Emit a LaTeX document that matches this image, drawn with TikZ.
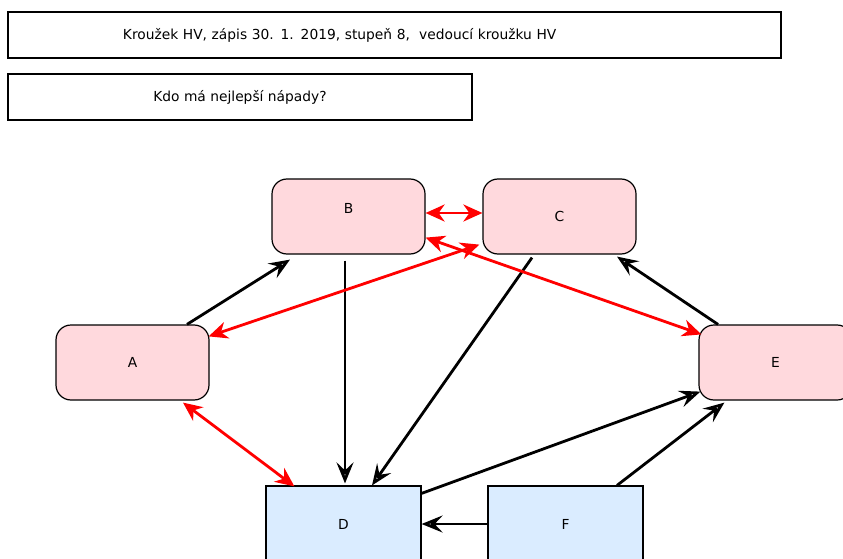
\documentclass[tikz,border=0pt]{standalone}
\usepackage{fontspec}
\setmainfont{DejaVu Sans}
\usetikzlibrary{arrows.meta,calc}
\definecolor{pinkfill}{RGB}{255,217,221}
\definecolor{bluefill}{RGB}{218,236,255}

\begin{document}
\begin{tikzpicture}[x=1pt,y=-1pt,
  every node/.style={font=\fontsize{13.8}{16}\selectfont},
  textbox/.style={draw,line width=1.2pt,minimum height=46pt,inner sep=0pt},
  person/.style={draw,line width=1.2pt,rounded corners=15pt,fill=pinkfill,minimum width=153pt,minimum height=75pt,inner sep=0pt},
  group/.style={draw,line width=1.2pt,fill=bluefill,minimum width=155pt,minimum height=76pt,inner sep=0pt},
  link/.style={line width=2.8pt,-{Stealth[open,length=21pt,width=17pt,inset=8pt,fill=white]}},
  both/.style={red,line width=2.8pt,{Stealth[length=19pt,width=17pt,inset=6pt]}-{Stealth[length=19pt,width=17pt,inset=6pt]}}]

\clip (0,0) rectangle (843,559);

\node (title) at (394.5,35) [textbox,minimum width=773pt,text width=773pt,align=left] {\hspace*{115pt}Kroužek HV, zápis 30. 1. 2019, stupeň 8,~ vedoucí kroužku HV};
\node (question) at (240,97) [textbox,minimum width=464pt] {Kdo má nejlepší nápady?};

\node (B) at (348.5,216.5) [person,text depth=17pt] {B};
\node (C) at (559.5,216.5) [person] {C};
\node (A) at (132.5,362.5) [person] {A};
\node (E) at (775.5,362.5) [person] {E};
\node (D) at (343.5,524) [group] {D};
\node (F) at (565.5,524) [group] {F};

% who follows whom
\draw [link] ($(A.north)+(54.5,0)$) -- ($(B.south)+(-58.5,5)$);
\draw [link] ($(B.south)+(-3.5,6)$) -- ($(D.north)+(1.5,-2)$);
\draw [link] ($(C.south)+(-27.5,3)$) -- ($(D.north)+(28.5,0)$);
\draw [link] ($(E.north)+(-57.5,0)$) -- ($(C.south)+(57.5,2)$);
\draw [link] ($(D.north east)+(0,8)$) -- ($(E.south west)+(2,-9)$);
\draw [link] ($(F.north)+(51.5,0)$) -- ($(E.south west)+(26,2)$);
\draw [link] (F.west) -- (D.east);

% both ways
\draw [both] ($(B.east)+(0,-3.5)$) -- ($(C.west)+(0,-3.5)$);
\draw [both] ($(A.north east)+(-1,12)$) -- ($(C.south west)+(-3,-10)$);
\draw [both] ($(B.south east)+(0,-17)$) -- ($(E.north west)+(3,10)$);
\draw [both] ($(A.south)+(50.5,2)$) -- ($(D.north west)+(29,1)$);

\end{tikzpicture}
\end{document}
